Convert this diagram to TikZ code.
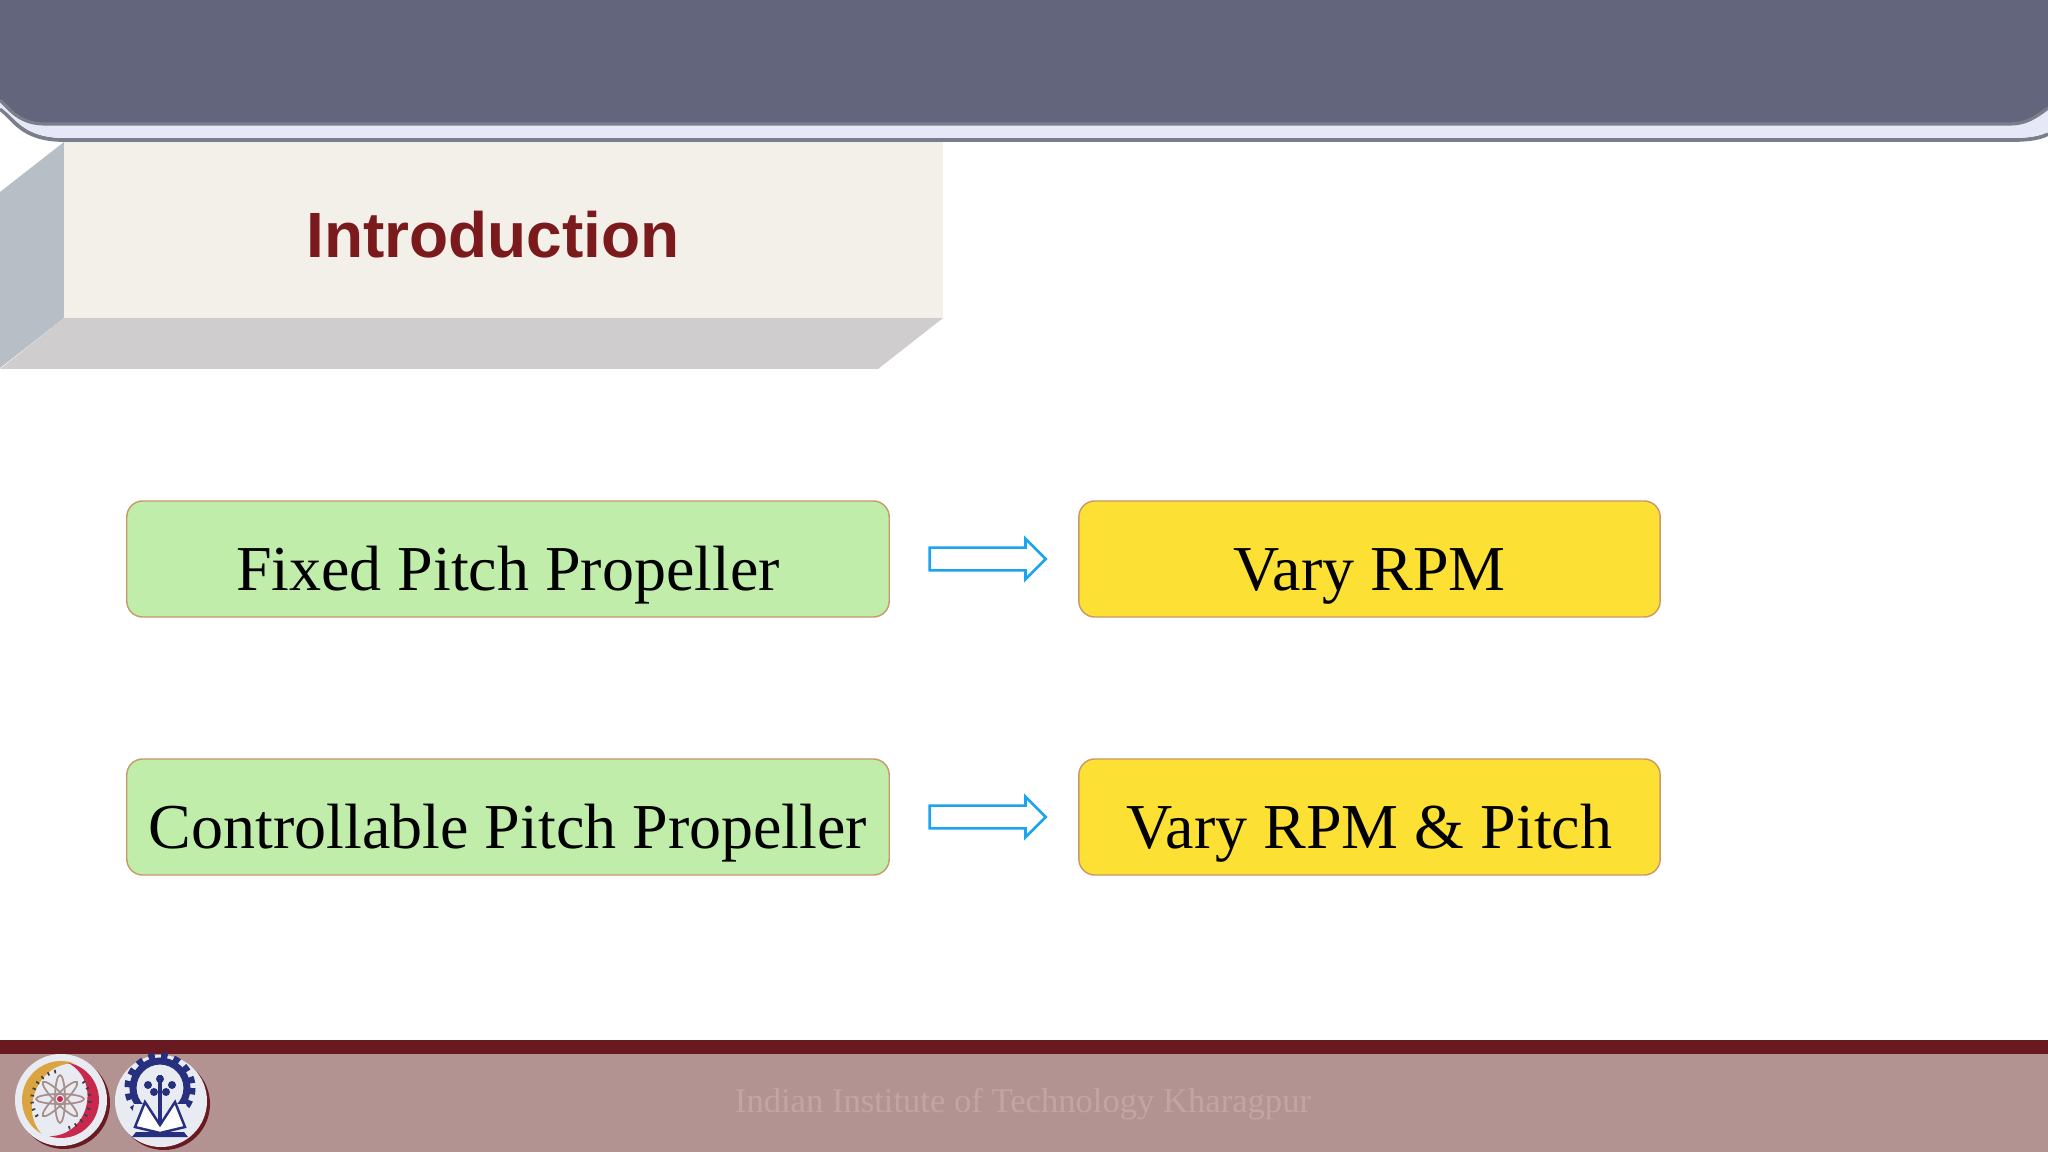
\documentclass[tikz,border=0pt]{standalone}
\usepackage{fontspec}
\setmainfont{Liberation Serif}
\newfontfamily\arialfont{Liberation Sans}
\usetikzlibrary{positioning, shapes.arrows}

\definecolor{headblue}{HTML}{62657B}
\definecolor{headedge}{HTML}{7A7D8C}
\definecolor{headstrip}{HTML}{E6E8F8}
\definecolor{titlebox}{HTML}{F2F0E9}
\definecolor{titleleft}{HTML}{B7BEC6}
\definecolor{titlelow}{HTML}{CFCDCE}
\definecolor{titletext}{HTML}{7B1A1C}
\definecolor{boxgreen}{HTML}{C0EEAA}
\definecolor{boxyellow}{HTML}{FCE033}
\definecolor{boxedge}{HTML}{C9986A}
\definecolor{arrowblue}{HTML}{1CA4EC}
\definecolor{footdark}{HTML}{691A20}
\definecolor{footback}{HTML}{B39391}
\definecolor{foottext}{HTML}{C2A5A2}
\definecolor{logoback}{HTML}{E9EBF3}
\definecolor{logoblue}{HTML}{27307F}
\definecolor{logogold}{HTML}{D9A441}
\definecolor{logored}{HTML}{C8284E}
\definecolor{logopetal}{HTML}{A88F8C}

\tikzset{
    plain/.style={draw=none, fill=#1},
    greenbox/.style={draw=boxedge, line width=0.4pt, fill=boxgreen, rounded corners=0.16cm,
        minimum width=7.62cm, minimum height=1.16cm, inner sep=0pt,
        text height=0.82cm, text depth=0.19cm, font=\fontsize{18.2}{20}\selectfont},
    yellowbox/.style={greenbox, fill=boxyellow, minimum width=5.81cm},
    flow/.style={single arrow, draw=arrowblue, line width=0.75pt, fill=white, inner xsep=0pt, inner ysep=0.10cm,
        minimum height=1.16cm, single arrow head extend=0.09cm,
        single arrow head indent=0cm, shape border rotate=0},
}

\begin{document}
\begin{tikzpicture}[x=0.01cm, y=-0.01cm]
    \useasboundingbox (0,0) rectangle (2048,1152);
    \fill[white] (0,0) rectangle (2048,1152);

    % header
    \draw[headedge, line width=1.1pt] (0,109) .. controls (14,118) and (20,140) .. (65,140)
        -- (2010,140) .. controls (2030,140) and (2040,138) .. (2048,134);
    \fill[headstrip] (0,100) -- (2048,100) -- (2048,132) .. controls (2040,136) and (2030,138) .. (2010,138)
        -- (65,138) .. controls (24,138) and (16,118) .. (0,107) -- cycle;
    \fill[headblue] (0,0) -- (2048,0) -- (2048,108)
        .. controls (2035,118) and (2025,124) .. (2010,124) -- (45,124)
        .. controls (20,124) and (10,110) .. (0,100) -- cycle;
    \draw[headedge, line width=0.9pt] (2048,108)
        .. controls (2035,118) and (2025,124) .. (2010,124) -- (45,124)
        .. controls (20,124) and (10,110) .. (0,100);

    % title block
    \fill[titleleft] (64,142) -- (0,192) -- (0,368) -- (64,318) -- cycle;
    \fill[titlelow] (64,318) -- (943,318) -- (878,369) -- (0,369) -- cycle;
    \node[plain=titlebox, minimum width=8.79cm, minimum height=1.76cm, inner sep=0pt] (title)
        at (503.5,230) {};
    \node[text=titletext, font=\arialfont\bfseries\fontsize{18.2}{22}\selectfont] (titletxt)
        at (493,235) {Introduction};

    % boxes
    \node[greenbox] (fixedpitch) at (508,559) {Fixed Pitch Propeller};
    \node[yellowbox] (varyrpm) at (1369.5,559) {Vary RPM};
    \node[greenbox] (controlpitch) at (508,817) {Controllable Pitch Propeller};
    \node[yellowbox] (varyboth) at (1369.5,817) {Vary RPM \& Pitch};

    \path (fixedpitch) -- node[flow, pos=0.49] (flowa) {} (varyrpm);
    \path (controlpitch) -- node[flow, pos=0.49] (flowb) {} (varyboth);

    % footer
    \fill[footback] (0,1053) rectangle (2048,1152);
    \fill[footdark] (0,1040) rectangle (2048,1054);
    \node[text=foottext, font=\fontsize{9.84}{11}\selectfont] (institute) at (1023,1104)
        {Indian Institute of Technology Kharagpur};

    % left logo
    \fill[footdark] (64,1103) circle[radius=46];
    \fill[logoback] (61,1100) circle[radius=46];
    \fill[logogold] plot[domain=70:240, samples=30] ({61+39*cos(\x)},{1100-39*sin(\x)})
        -- plot[domain=240:70, samples=30] ({61+(39-12*sin((\x-70)*1.0588))*cos(\x)},{1100-(39-12*sin((\x-70)*1.0588))*sin(\x)}) -- cycle;
    \fill[logored] plot[domain=-108:80, samples=30] ({61+38*cos(\x)},{1100-38*sin(\x)})
        -- plot[domain=80:-108, samples=30] ({61+(38-12*sin((\x+108)*0.9574))*cos(\x)},{1100-(38-12*sin((\x+108)*0.9574))*sin(\x)}) -- cycle;
    \draw[black!75, line width=1pt, dash pattern=on 0.5pt off 1.5pt] plot[domain=100:215, samples=30]
        ({61+29*cos(\x)},{1100-29*sin(\x)});
    \draw[black!75, line width=1pt, dash pattern=on 0.5pt off 1.5pt] plot[domain=-75:50, samples=30]
        ({61+29*cos(\x)},{1100-29*sin(\x)});
    \foreach \a in {0,45,90,135}
        \draw[logopetal, line width=0.5pt, rotate around={\a:(60,1099)}]
            (60,1099) ellipse[x radius=24, y radius=5];
    \fill[logored] (60,1099) circle[radius=3];

    % right logo
    \fill[footdark] (164,1104) circle[radius=46];
    \fill[logoback] (161,1101) circle[radius=46];
    \draw[logoblue, line width=2pt] (160,1088) circle[radius=27];
    \draw[logoblue, line width=2pt, dash pattern=on 1.8pt off 1.8pt] (160,1088) circle[radius=32];
    \fill[logoback] (134,1104) -- (186,1104) -- (192,1128) -- (130,1128) -- cycle;
    \draw[logoblue, line width=1.4pt] (160,1075) -- (160,1125);
    \foreach \px/\py in {148/1085,172/1085,160/1079,154/1092,166/1092}
        \fill[logoblue] (\px,\py) circle[radius=4];
    \draw[logoblue, line width=0.7pt, fill=white] (160,1125) -- (145,1102) -- (135,1127) -- (160,1133)
        -- (185,1127) -- (175,1102) -- cycle;
    \draw[logoblue, line width=1.4pt] (160,1100) -- (160,1125);
    \fill[logoblue] (136,1132) -- (184,1132) -- (188,1137) -- (132,1137) -- cycle;
\end{tikzpicture}
\end{document}
